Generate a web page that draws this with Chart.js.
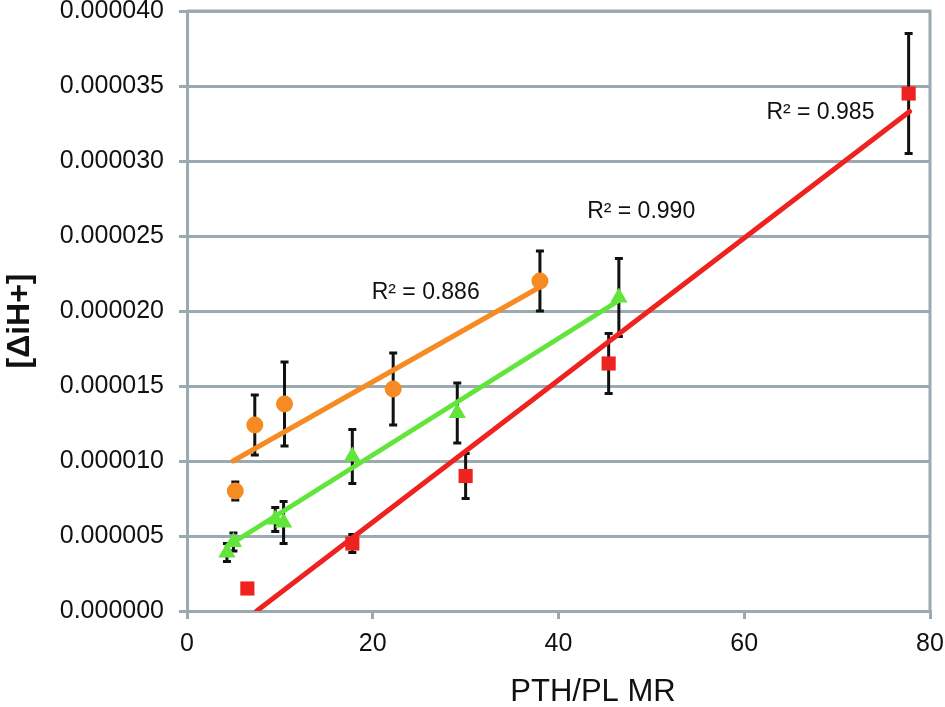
<!DOCTYPE html>
<html>
<head>
<meta charset="utf-8">
<script src="https://cdn.jsdelivr.net/npm/chart.js@4/dist/chart.umd.min.js"></script>
<style>
  html, body { margin: 0; padding: 0; background: #fff; }
  #wrap { width: 945px; height: 707px; }
</style>
</head>
<body>
<div id="wrap"><canvas id="chart" width="945" height="707"></canvas></div>
<script>
// values (y in units of 1e-6)
const orangeX = [5.2, 7.3, 10.5, 22.2, 38.0];
const orangeY = [8.0, 12.4, 13.8, 14.8, 22.0];
const orangeErr = [0.6, 2.0, 2.8, 2.4, 2.0];

const greenX = [4.3, 5.0, 9.5, 10.4, 17.8, 29.1, 46.5];
const greenY = [3.9, 4.6, 6.1, 5.9, 10.3, 13.2, 20.9];
const greenErr = [0.6, 0.6, 0.8, 1.4, 1.8, 2.0, 2.6];

const redX = [6.5, 17.8, 30.0, 45.4, 77.7];
const redY = [1.5, 4.5, 9.0, 16.5, 34.5];
const redErr = [0.3, 0.6, 1.5, 2.0, 4.0];

// trendline ends
const orangeFitX = [4.95, 38.0];
const orangeFitY = [10.0, 21.6];
const greenFitX = [4.3, 46.5];
const greenFitY = [4.3, 20.7];
const redFitX = [7.5, 77.8];
const redFitY = [0.0, 33.3];

const r2Text = ["R² = 0.886", "R² = 0.990", "R² = 0.985"];
const r2X = [25.7, 48.9, 68.2];
const r2Y = [21.2, 26.6, 33.2];

const xTicks = [0, 20, 40, 60, 80];
const xTitle = "PTH/PL MR";
const yTitle = "[ΔiH+]";

const SCALE = 1e-6;
const GRID = "#9aaab0";
const ORANGE = "#f58b22";
const GREEN = "#62e53a";
const RED = "#ee2320";
const FONT = "'Liberation Sans', Arial, sans-serif";

const pts = (xs, ys) => xs.map((x, i) => ({ x: x, y: ys[i] * SCALE }));

// vertical error bars with caps, drawn under the markers
const errorBars = {
    id: "errorBars",
    beforeDatasetsDraw(chart) {
        const ctx = chart.ctx;
        const xs = chart.scales.x, ys = chart.scales.y;
        ctx.save();
        ctx.strokeStyle = "#111";
        ctx.lineWidth = 3;
        chart.data.datasets.forEach(ds => {
            if (!ds.errors) return;
            ds.data.forEach((p, i) => {
                const px = xs.getPixelForValue(p.x);
                const top = ys.getPixelForValue(p.y + ds.errors[i] * SCALE);
                const bot = ys.getPixelForValue(p.y - ds.errors[i] * SCALE);
                ctx.beginPath();
                ctx.moveTo(px, top); ctx.lineTo(px, bot);
                ctx.moveTo(px - 4, top); ctx.lineTo(px + 4, top);
                ctx.moveTo(px - 4, bot); ctx.lineTo(px + 4, bot);
                ctx.stroke();
            });
        });
        ctx.restore();
    }
};

// plot area frame, axis titles and R² labels
const frame = {
    id: "frame",
    beforeDatasetsDraw(chart) {
        const { ctx, chartArea: a } = chart;
        ctx.save();
        ctx.strokeStyle = GRID;
        ctx.lineWidth = 3;
        ctx.beginPath();
        ctx.moveTo(a.left, a.top);
        ctx.lineTo(a.right, a.top);
        ctx.lineTo(a.right, a.bottom);
        ctx.stroke();

        ctx.fillStyle = "#111";
        ctx.textAlign = "center";
        ctx.textBaseline = "middle";
        ctx.font = "31px " + FONT;
        ctx.fillText(xTitle, 593, 692);
        ctx.translate(20, 321);
        ctx.rotate(-Math.PI / 2);
        ctx.font = "bold 32px " + FONT;
        ctx.fillText(yTitle, 0, 0);
        ctx.restore();
    },
    afterDatasetsDraw(chart) {
        const ctx = chart.ctx;
        ctx.save();
        ctx.fillStyle = "#111";
        ctx.font = "23px " + FONT;
        ctx.textAlign = "center";
        ctx.textBaseline = "middle";
        r2Text.forEach((t, i) => {
            ctx.fillText(t, chart.scales.x.getPixelForValue(r2X[i]),
                chart.scales.y.getPixelForValue(r2Y[i] * SCALE));
        });
        ctx.restore();
    }
};

const lineDs = (xs, ys, color) => ({
    type: "line",
    data: pts(xs, ys),
    borderColor: color,
    borderWidth: 5,
    pointRadius: 0,
    borderCapStyle: "round",
    fill: false,
    order: 2
});

const markerDs = (xs, ys, errs, color, style, r) => ({
    type: "scatter",
    data: pts(xs, ys),
    errors: errs,
    backgroundColor: color,
    borderColor: color,
    borderWidth: 0,
    pointStyle: style,
    pointRadius: r,
    order: 1
});

new Chart(document.getElementById("chart"), {
    type: "scatter",
    data: {
        datasets: [
            lineDs(orangeFitX, orangeFitY, ORANGE),
            lineDs(greenFitX, greenFitY, GREEN),
            lineDs(redFitX, redFitY, RED),
            markerDs(orangeX, orangeY, orangeErr, ORANGE, "circle", 8.5),
            markerDs(greenX, greenY, greenErr, GREEN, "triangle", 10),
            markerDs(redX, redY, redErr, RED, "rect", 10)
        ]
    },
    options: {
        responsive: false,
        animation: false,
        layout: { padding: { left: 0, right: 15, top: 11, bottom: 0 } },
        plugins: {
            legend: { display: false },
            tooltip: { enabled: false }
        },
        scales: {
            x: {
                type: "linear",
                min: 0,
                max: 80,
                afterBuildTicks: s => { s.ticks = xTicks.map(v => ({ value: v })); },
                ticks: { font: { family: FONT, size: 25 }, color: "#111", padding: 10, maxRotation: 0 },
                grid: { drawOnChartArea: false, drawTicks: true, tickLength: 8, color: GRID, lineWidth: 3 },
                border: { color: GRID, width: 3 },
                afterFit: s => { s.height = 96; s.paddingLeft = 0; s.paddingRight = 0; }
            },
            y: {
                type: "linear",
                min: 0,
                max: 0.00004,
                ticks: {
                    stepSize: 0.000005,
                    font: { family: FONT, size: 25 },
                    color: "#111",
                    padding: 15,
                    callback: v => v.toFixed(6)
                },
                grid: { color: GRID, lineWidth: 3, tickLength: 8 },
                border: { color: GRID, width: 3 },
                afterFit: s => { s.width = 187; s.paddingTop = 0; s.paddingBottom = 0; }
            }
        }
    },
    plugins: [errorBars, frame]
});
</script>
</body>
</html>
